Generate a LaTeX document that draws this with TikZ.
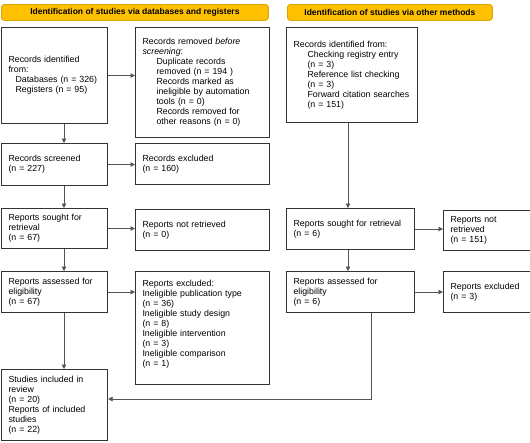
\documentclass[tikz,border=0pt]{standalone}
\usepackage{fontspec}
\setmainfont{Liberation Sans}
\usetikzlibrary{arrows.meta}
\definecolor{hdrfill}{HTML}{FFC000}
\definecolor{hdrline}{HTML}{D9A300}
\definecolor{boxline}{HTML}{333333}
\definecolor{conline}{HTML}{555555}
\tikzset{
  box/.style={draw=boxline, line width=1.1pt, rectangle, anchor=north west,
    inner xsep=7pt, inner ysep=2pt, align=left,
    font=\fontsize{8.8}{10}\selectfont},
  hdr/.style={draw=hdrline, fill=hdrfill, line width=0.8pt, rounded corners=3pt,
    anchor=north west, inner sep=0pt, minimum height=16pt,
    font=\fontsize{8.5}{9}\selectfont\bfseries},
  con/.style={draw=conline, line width=0.7pt, -{Triangle[length=4.5pt,width=4.5pt]}},
}
\newcommand{\ind}{\hspace*{7pt}}
\newcommand{\indd}{\hspace*{14pt}}
\begin{document}
\begin{tikzpicture}[x=1pt,y=-1pt]
\clip (0,0) rectangle (530,442);
\fill[white] (0,0) rectangle (530,442);
% headers
\node[hdr, minimum width=267pt] (hL) at (1,4) {Identification of studies via databases and registers};
\node[hdr, minimum width=205pt] (hR) at (287,4) {Identification of studies via other methods};
% left column
\node[box, minimum width=106pt, minimum height=96pt, text width=92pt] (id1) at (1,27)
  {Records identified\\from:\\\ind Databases (n = 326)\\\ind Registers (n = 95)};
\node[box, minimum width=134pt, minimum height=110pt, text width=120pt] (rm) at (135,27)
  {Records removed \textit{before}\\\textit{screening}:\\\indd Duplicate records\\\indd removed (n = 194 )\\\indd Records marked as\\\indd ineligible by automation\\\indd tools (n = 0)\\\indd Records removed for\\\indd other reasons (n = 0)};
\node[box, minimum width=106pt, minimum height=42pt, text width=92pt] (scr) at (1,143)
  {Records screened\\(n = 227)};
\node[box, minimum width=134pt, minimum height=41pt, text width=120pt] (exc) at (135,143)
  {Records excluded\\(n = 160)};
\node[box, minimum width=106pt, minimum height=40pt, text width=92pt] (sought) at (1,208)
  {Reports sought for\\retrieval\\(n = 67)};
\node[box, minimum width=134pt, minimum height=41pt, text width=120pt] (notret) at (135,209)
  {Reports not retrieved\\(n = 0)};
\node[box, minimum width=106pt, minimum height=41pt, text width=92pt] (assess) at (1,271)
  {Reports assessed for\\eligibility\\(n = 67)};
\node[box, minimum width=134pt, minimum height=113pt, text width=120pt] (rexc) at (135,271)
  {Reports excluded:\\Ineligible publication type\\(n = 36)\\Ineligible study design\\(n = 8)\\Ineligible intervention\\(n = 3)\\Ineligible comparison\\(n = 1)\\\mbox{}};
\node[box, minimum width=106pt, minimum height=71pt, text width=92pt] (incl) at (1,369)
  {Studies included in\\review\\(n = 20)\\Reports of included\\studies\\(n = 22)};
% right column
\node[box, minimum width=131pt, minimum height=95pt, text width=117pt] (oid) at (286,27)
  {Records identified from:\\\indd Checking registry entry\\\indd (n = 3)\\\indd Reference list checking\\\indd (n = 3)\\\indd Forward citation searches\\\indd (n = 151)};
\node[box, minimum width=128pt, minimum height=41pt, text width=114pt] (osought) at (286,208)
  {Reports sought for retrieval\\(n = 6)};
\node[box, minimum width=100pt, minimum height=40pt, text width=86pt] (onotret) at (443,210)
  {Reports not\\retrieved\\(n = 151)};
\node[box, minimum width=128pt, minimum height=41pt, text width=114pt] (oassess) at (286,271)
  {Reports assessed for\\eligibility\\(n = 6)};
\node[box, minimum width=100pt, minimum height=41pt, text width=86pt] (orexc) at (443,271)
  {Reports excluded\\(n = 3)};
% connector guides
\coordinate (xL) at (64,0);
\coordinate (xR) at (348,0);
\coordinate (j) at (371,399);
% left vertical arrows
\draw[con] (id1.south -| xL) -- (scr.north -| xL);
\draw[con] (scr.south -| xL) -- (sought.north -| xL);
\draw[con] (sought.south -| xL) -- (assess.north -| xL);
\draw[con] (assess.south -| xL) -- (incl.north -| xL);
% left horizontal arrows
\draw[con] (id1.east) -- (id1.east -| rm.west);
\draw[con] (scr.east) -- (scr.east -| exc.west);
\draw[con] (sought.east) -- (sought.east -| notret.west);
\draw[con] (assess.east) -- (assess.east -| rexc.west);
% right column arrows
\draw[con] (oid.south -| xR) -- (osought.north -| xR);
\draw[con] (osought.south -| xR) -- (oassess.north -| xR);
\draw[con] (osought.east) -- (osought.east -| onotret.west);
\draw[con] (oassess.east) -- (oassess.east -| orexc.west);
\draw[con] (oassess.south -| j) -- (j) -- (j -| incl.east);
\end{tikzpicture}
\end{document}
